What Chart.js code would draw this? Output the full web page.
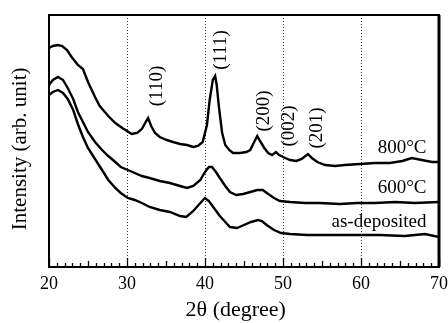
<!DOCTYPE html>
<html>
<head>
<meta charset="utf-8">
<script src="https://cdn.jsdelivr.net/npm/chart.js@4.4.1/dist/chart.umd.min.js"></script>
<style>
  html, body { margin: 0; padding: 0; background: #fff; }
</style>
</head>
<body>
<canvas id="xrd" width="448" height="323"></canvas>
<script>
// ---- data (2θ in degrees, intensity in arbitrary units) ----
const angle800 = [20.0, 20.5, 21.15, 21.7, 22.3, 22.9, 23.7, 24.35, 25.0, 25.9, 26.5, 27.6, 28.5, 29.4, 30.0,
  30.6, 31.3, 31.9, 32.4, 32.7, 33.1, 33.6, 34.2, 35.1, 35.9, 36.8, 37.7, 38.5, 39.1, 39.7, 40.25, 40.6, 41.0,
  41.3, 41.5, 41.8, 42.2, 42.6, 43.1, 43.6, 44.5, 45.3, 45.8, 46.3, 46.7, 47.05, 47.6, 48.1, 48.6, 49.1, 49.5,
  50.3, 50.9, 51.7, 52.4, 53.2, 53.7, 54.4, 55.4, 56.7, 57.9, 59.9, 61.8, 63.7, 65.3, 66.5, 67.8, 69.1, 70.0];
const int800 = [219, 221, 222, 221, 217, 210, 202, 198, 185, 170, 161, 151, 144, 139, 136,
  133, 134, 138, 145, 149, 141, 134, 130, 127, 125, 123, 122, 120, 121, 125, 142, 167, 187,
  191, 182, 159, 134, 122, 117, 114, 114, 115, 117, 125, 131, 126, 119, 114, 112, 115, 112,
  109, 107, 106, 108, 113, 109, 105, 102, 101, 102, 103, 104, 104, 106, 109, 107, 105, 105];

const angle600 = [20.0, 20.5, 21.15, 21.8, 22.4, 23.1, 23.7, 24.35, 25.0, 25.9, 26.8, 27.6, 28.5, 29.2, 30.1,
  31.0, 31.9, 32.9, 34.2, 35.5, 36.8, 37.7, 38.5, 39.4, 40.0, 40.5, 40.9, 41.4, 41.9, 42.6, 43.2, 44.0, 44.9,
  45.8, 46.7, 47.4, 48.1, 48.85, 49.6, 50.9, 52.8, 54.7, 57.3, 59.5, 61.8, 64.4, 66.9, 70.0];
const int600 = [182, 187, 190, 187, 179, 168, 155, 145, 135, 125, 117, 111, 105, 100, 97,
  94, 91, 89, 86, 84, 81, 79, 81, 87, 95, 100, 100, 95, 89, 81, 75, 72, 73,
  75, 77, 77, 73, 69, 66, 65, 64, 64, 63, 64, 64, 65, 64, 65];

const angleAsDep = [20.0, 20.5, 21.15, 21.8, 22.4, 23.1, 23.7, 24.35, 25.0, 25.9, 26.8, 27.6, 28.5, 29.2, 30.1,
  31.0, 31.9, 32.9, 34.2, 35.5, 36.8, 37.6, 38.5, 39.4, 40.0, 40.5, 41.15, 41.9, 42.6, 43.2, 44.1, 45.0,
  45.9, 46.8, 47.3, 47.9, 48.85, 49.75, 50.9, 53.1, 56.0, 59.5, 62.4, 65.6, 68.2, 70.0];
const intAsDep = [172, 175, 177, 174, 168, 157, 143, 130, 119, 108, 97, 87, 79, 74, 69,
  67, 64, 60, 57, 55, 51, 50, 56, 64, 69, 66, 59, 51, 45, 40, 39, 42,
  45, 47, 46, 42, 37, 34, 33, 32, 32, 32, 32, 31, 33, 30];

const xTicks = [20, 30, 40, 50, 60, 70];
const gridAngles = [30, 40, 50, 60];

// peak labels (hkl) and curve names, placed in data units
const peakNames = ['(110)', '(111)', '(200)', '(002)', '(201)'];
const peakAngles = [33.85, 42.05, 47.56, 50.77, 54.36];
const peakHeights = [181, 217, 156, 141, 139];
const curveNames = ['800°C', '600°C', 'as-deposited'];
const curveNameHeights = [119, 79, 45];

const SERIF = "'Liberation Serif', 'Times New Roman', serif";

function toPoints(xs, ys) {
  return xs.map((x, i) => ({ x: x, y: ys[i] }));
}

const framePlugin = {
  id: 'frame',
  afterDatasetsDraw(chart) {
    const { ctx, chartArea: a, scales } = chart;
    const x = scales.x;
    ctx.save();
    ctx.strokeStyle = '#000';
    // inward ticks along the bottom axis, every degree
    ctx.lineWidth = 1.3;
    for (let d = 20; d <= 70; d++) {
      const px = Math.round(x.getPixelForValue(d)) + 0.5;
      const len = d % 10 === 0 ? 9 : (d % 5 === 0 ? 6 : 4);
      ctx.beginPath();
      ctx.moveTo(px, a.bottom);
      ctx.lineTo(px, a.bottom - len);
      ctx.stroke();
    }
    ctx.lineWidth = 2;
    ctx.strokeRect(a.left, a.top, a.right - a.left, a.bottom - a.top);
    ctx.lineWidth = 3;
    ctx.beginPath();
    ctx.moveTo(a.right, a.top);
    ctx.lineTo(a.right, a.bottom);
    ctx.stroke();
    ctx.restore();
  },
  afterDraw(chart) {
    const { ctx, scales } = chart;
    ctx.save();
    ctx.fillStyle = '#000';
    ctx.font = '19px ' + SERIF;
    ctx.textAlign = 'center';
    ctx.textBaseline = 'middle';
    peakNames.forEach((t, i) => {
      ctx.save();
      ctx.translate(scales.x.getPixelForValue(peakAngles[i]), scales.y.getPixelForValue(peakHeights[i]));
      ctx.rotate(-Math.PI / 2);
      ctx.fillText(t, 0, 0);
      ctx.restore();
    });
    ctx.textAlign = 'right';
    curveNames.forEach((t, i) => {
      ctx.fillText(t, scales.x.getPixelForValue(68.4), scales.y.getPixelForValue(curveNameHeights[i]));
    });
    ctx.restore();
  }
};

const lineStyle = {
  borderColor: '#000',
  borderWidth: 2.4,
  pointRadius: 0,
  tension: 0,
  fill: false
};

new Chart(document.getElementById('xrd'), {
  type: 'line',
  data: {
    datasets: [
      { label: '800°C', data: toPoints(angle800, int800), ...lineStyle },
      { label: '600°C', data: toPoints(angle600, int600), ...lineStyle },
      { label: 'as-deposited', data: toPoints(angleAsDep, intAsDep), ...lineStyle }
    ]
  },
  options: {
    responsive: false,
    animation: false,
    layout: { padding: { top: 15, right: 9, left: 0, bottom: 0 } },
    plugins: { legend: { display: false }, tooltip: { enabled: false } },
    scales: {
      x: {
        type: 'linear',
        min: 20,
        max: 70,
        afterFit: s => { s.height = 56; s.paddingLeft = 0; s.paddingRight = 0; },
        afterBuildTicks: s => { s.ticks = xTicks.map(v => ({ value: v })); },
        ticks: { color: '#000', font: { family: SERIF, size: 18 }, padding: 6 },
        grid: {
          drawTicks: false,
          lineWidth: 1,
          color: c => (c.tick && gridAngles.includes(c.tick.value)) ? '#333' : 'rgba(0,0,0,0)'
        },
        border: { display: false, dash: [1, 2] },
        title: {
          display: true,
          text: '2θ (degree)   ',
          color: '#000',
          font: { family: SERIF, size: 22 },
          padding: { top: 0, bottom: 0 }
        }
      },
      y: {
        min: 0,
        max: 252,
        afterFit: s => { s.width = 49; },
        ticks: { display: false },
        grid: { display: false },
        border: { display: false },
        title: {
          display: true,
          text: 'Intensity (arb. unit)   ',
          color: '#000',
          font: { family: SERIF, size: 21 },
          padding: { top: 8, bottom: 0 }
        }
      }
    }
  },
  plugins: [framePlugin]
});
</script>
</body>
</html>
